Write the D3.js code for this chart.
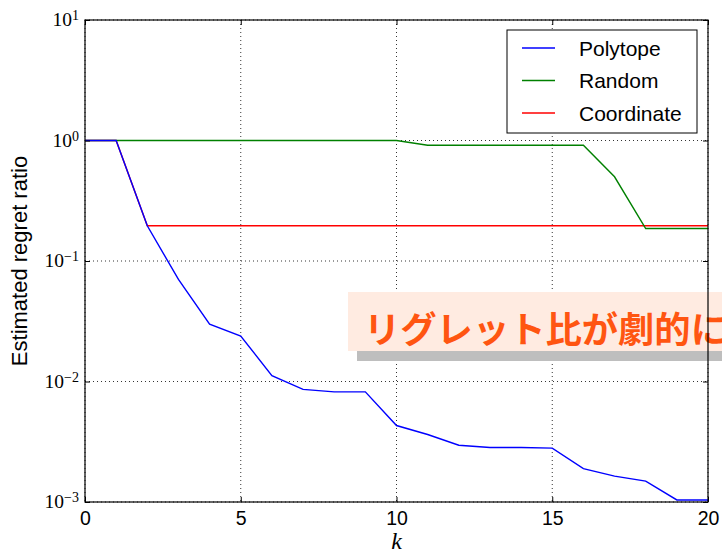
<!DOCTYPE html>
<html><head><meta charset="utf-8">
<script src="https://cdn.jsdelivr.net/npm/d3@7"></script>
<style>body{margin:0;background:#fff}svg{display:block}</style>
</head><body>
<script>
const kValues = [0,1,2,3,4,5,6,7,8,9,10,11,12,13,14,15,16,17,18,19,20];
const polytope = [1,1,0.196,0.0703,0.0299,0.0238,0.0112,0.0086,0.0082,0.0082,0.00431,0.00363,0.00296,0.00283,0.00283,0.0028,0.00189,0.00164,0.00149,0.00104,0.00104];
const random = [1,1,1,1,1,1,1,1,1,1,1,0.914,0.914,0.914,0.914,0.914,0.914,0.5,0.186,0.186,0.186];
const coordinate = [1,1,0.196,0.196,0.196,0.196,0.196,0.196,0.196,0.196,0.196,0.196,0.196,0.196,0.196,0.196,0.196,0.196,0.196,0.196,0.196];
const seriesNames = ["Polytope","Random","Coordinate"];
const seriesColors = ["#0000ff","#008000","#ff0000"];
const xTicks = [0,5,10,15,20];
const yTickExps = [1,0,-1,-2,-3];
const xLabel = "k";
const yLabel = "Estimated regret ratio";
const annotationText = "リグレット比が劇的に低下";

const W = 722, H = 553;
const L = 85, R = 708, T = 20, B = 502;
const svg = d3.select("body").append("svg").attr("width", W).attr("height", H);
const x = d3.scaleLinear().domain([0,20]).range([L,R]);
const y = d3.scaleLog().domain([1e-3,10]).range([B,T]);

// grid
const grid = svg.append("g").attr("stroke","#000").attr("stroke-width",0.8).attr("stroke-dasharray","1,3");
xTicks.forEach(v => grid.append("line").attr("x1",x(v)).attr("x2",x(v)).attr("y1",T).attr("y2",B));
yTickExps.forEach(e => grid.append("line").attr("x1",L).attr("x2",R).attr("y1",y(Math.pow(10,e))).attr("y2",y(Math.pow(10,e))));

// lines
const seriesData = [polytope, random, coordinate];
const lineGen = d3.line().x((d,i)=>x(kValues[i])).y(d=>y(d));
[2,1,0].forEach(s => {
  svg.append("path").datum(seriesData[s]).attr("d", lineGen)
    .attr("fill","none").attr("stroke",seriesColors[s]).attr("stroke-width",1.4);
});

// legend
const lg = svg.append("g");
lg.append("rect").attr("x",507).attr("y",30).attr("width",190).attr("height",103)
  .attr("fill","#fff").attr("stroke","#000").attr("stroke-width",1);
seriesNames.forEach((n,i) => {
  const yy = 48 + i*32.5;
  lg.append("line").attr("x1",522).attr("x2",555).attr("y1",yy).attr("y2",yy)
    .attr("stroke",seriesColors[i]).attr("stroke-width",1.4);
  lg.append("text").attr("x",579).attr("y",yy+7.5).text(n)
    .attr("font-family","Liberation Sans, Arial, sans-serif").attr("font-size",21);
});

// annotation
const ag = svg.append("g");
ag.append("rect").attr("x",357).attr("y",301).attr("width",400).attr("height",60).attr("fill","#bebebe");
ag.append("rect").attr("x",348).attr("y",292).attr("width",400).attr("height",59).attr("fill","#ffebe1");
ag.append("text").attr("x",364).attr("y",343).text(annotationText)
  .attr("font-family","Noto Sans CJK JP, sans-serif").attr("font-weight","bold")
  .attr("font-size",36.3).attr("fill","#ff5511");

// axes frame and ticks
const xAxisB = d3.axisBottom(x).tickValues(xTicks).tickSize(-5).tickPadding(9).tickFormat(d3.format("d"));
const xAxisT = d3.axisTop(x).tickValues(xTicks).tickSize(-5).tickFormat("");
const yAxisL = d3.axisLeft(y).tickValues(yTickExps.map(e=>Math.pow(10,e))).tickSize(-5).tickFormat("");
const yAxisR = d3.axisRight(y).tickValues(yTickExps.map(e=>Math.pow(10,e))).tickSize(-5).tickFormat("");
const gB = svg.append("g").attr("transform",`translate(0,${B})`).call(xAxisB);
svg.append("g").attr("transform",`translate(0,${T})`).call(xAxisT);
const gL = svg.append("g").attr("transform",`translate(${L},0)`).call(yAxisL);
svg.append("g").attr("transform",`translate(${R},0)`).call(yAxisR);
svg.selectAll(".domain").remove();
svg.selectAll(".tick line").attr("stroke","#000").attr("stroke-width",1);
gB.selectAll("text").attr("font-family","Liberation Sans, Arial, sans-serif").attr("font-size",19.5).attr("fill","#000");
svg.append("rect").attr("x",L).attr("y",T).attr("width",R-L).attr("height",B-T)
  .attr("fill","none").attr("stroke","#000").attr("stroke-width",1.2);

// y tick labels with superscripts
yTickExps.forEach(e => {
  const t = svg.append("text").attr("x",79).attr("y",y(Math.pow(10,e))+6.3)
    .attr("text-anchor","end").attr("font-family","Liberation Serif, Times New Roman, serif").attr("fill","#000");
  t.append("tspan").attr("font-size",19.5).text("10");
  t.append("tspan").attr("font-size",14).attr("dy",-6).text(e<0 ? "\u2212"+(-e) : String(e));
});

// axis labels
svg.append("text").attr("x",(L+R)/2).attr("y",549).attr("text-anchor","middle")
  .attr("font-family","Liberation Serif, Times New Roman, serif").attr("font-style","italic").attr("font-size",24).text(xLabel);
svg.append("text").attr("transform",`translate(27,${(T+B)/2}) rotate(-90)`).attr("text-anchor","middle")
  .attr("font-family","Liberation Sans, Arial, sans-serif").attr("font-size",22).text(yLabel);
</script>
</body></html>
